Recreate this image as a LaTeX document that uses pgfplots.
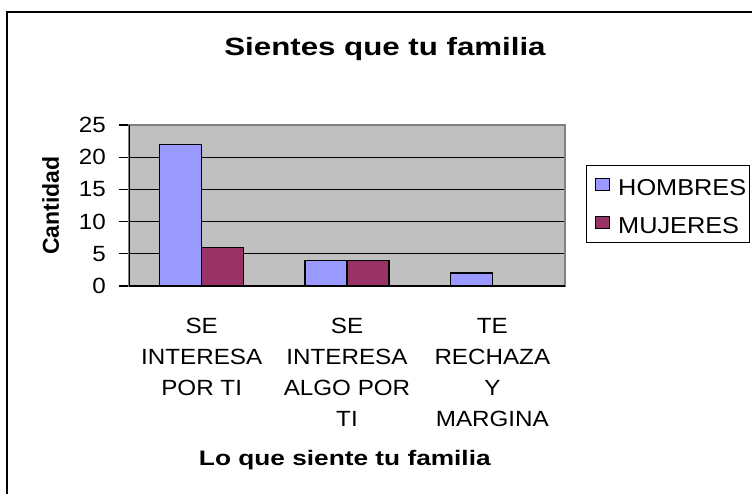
\documentclass[border=0pt]{standalone}
\usepackage{fontspec}
\setmainfont[FakeStretch=1.1]{Liberation Sans}
\newfontfamily\bw[FakeStretch=1.25]{Liberation Sans}
\newfontfamily\bn{Liberation Sans}
\usepackage{pgfplots}
\pgfplotsset{compat=1.18}
\definecolor{hom}{HTML}{9999FF}
\definecolor{muj}{HTML}{993366}
\definecolor{plotgray}{HTML}{C0C0C0}
\definecolor{bordergray}{HTML}{808080}
\begin{document}
\begin{tikzpicture}
\useasboundingbox (0pt,0pt) rectangle (752pt,-493pt);
\fill[white] (0pt,0pt) rectangle (752pt,-493pt);
\draw[line width=2pt] (7pt,-520pt) -- (7pt,-12pt) -- (790pt,-12pt);
\node[anchor=base, inner sep=0pt, font=\bw\bfseries\fontsize{25}{30}\selectfont] at (385pt,-55pt) {Sientes que tu familia};
\begin{axis}[
  at={(129pt,-286pt)}, anchor=south west,
  scale only axis, width=436pt, height=161pt,
  xmin=-0.5, xmax=2.5, ymin=0, ymax=25,
  ybar=0pt, bar width=42pt,
  /pgf/number format/assume math mode=true,
  axis background/.style={fill=plotgray},
  axis line style={draw=bordergray, line width=1.3pt},
  xtick={0,1,2},
  xticklabels={{SE\\INTERESA\\POR TI},{SE\\INTERESA\\ALGO POR\\TI},{TE\\RECHAZA\\Y\\MARGINA}},
  xtick style={draw=none},
  minor xtick={-0.5,0.5,1.5,2.5},
  minor tick length=7pt,
  minor x tick style={black, line width=1.3pt},
  ytick={0,5,10,15,20,25},
  ytick style={black, line width=1.3pt},
  major tick length=10pt,
  tick align=outside,
  tick pos=left,
  ymajorgrids, grid style={black, line width=1.3pt},
  xticklabel style={align=center, anchor=north, inner sep=0pt, yshift=-22pt, font=\fontsize{22}{31}\selectfont},
  yticklabel style={anchor=east, inner sep=0pt, xshift=-13pt, font=\fontsize{22}{26}\selectfont},
  xlabel={Lo que siente tu familia},
  xlabel style={at={(axis description cs:0.495,-1.1118)}, anchor=base, inner sep=0pt, font=\bw\bfseries\fontsize{21}{25}\selectfont},
  ylabel={Cantidad},
  ylabel style={at={(axis description cs:-0.1606,0.5)}, anchor=base, inner sep=0pt, font=\bn\bfseries\fontsize{23}{27}\selectfont},
  legend style={at={(1.048,0.7516)}, anchor=north west, draw=black, line width=1.3pt,
    font=\fontsize{23}{27}\selectfont, inner xsep=3pt, inner ysep=9pt, row sep=17pt,
    nodes={inner sep=0pt, text height=21pt, text depth=0pt},
    /tikz/every odd column/.style={column sep=8pt}},
  legend cell align=left,
]
\addplot[fill=hom, draw=black, line width=1.3pt,
  legend image code/.code={\path[draw=none,fill=none] (0pt,-5pt) -- (20pt,-5pt);\draw[fill=hom, draw=black, line width=1.3pt] (6pt,-5pt) rectangle (20pt,7pt);}]
  coordinates {(0,22) (1,4) (2,2)};
\addplot[fill=muj, draw=black, line width=1.3pt,
  legend image code/.code={\path[draw=none,fill=none] (0pt,-5pt) -- (20pt,-5pt);\draw[fill=muj, draw=black, line width=1.3pt] (6pt,-5pt) rectangle (20pt,7pt);}]
  coordinates {(0,6) (1,4) (2,0)};
\legend{HOMBRES, MUJERES}
\draw[black, line width=1.3pt] (rel axis cs:0,0) -- (rel axis cs:0,1);
\draw[black, line width=1.3pt] (rel axis cs:0,0) -- (rel axis cs:1,0);
\end{axis}
\end{tikzpicture}
\end{document}
